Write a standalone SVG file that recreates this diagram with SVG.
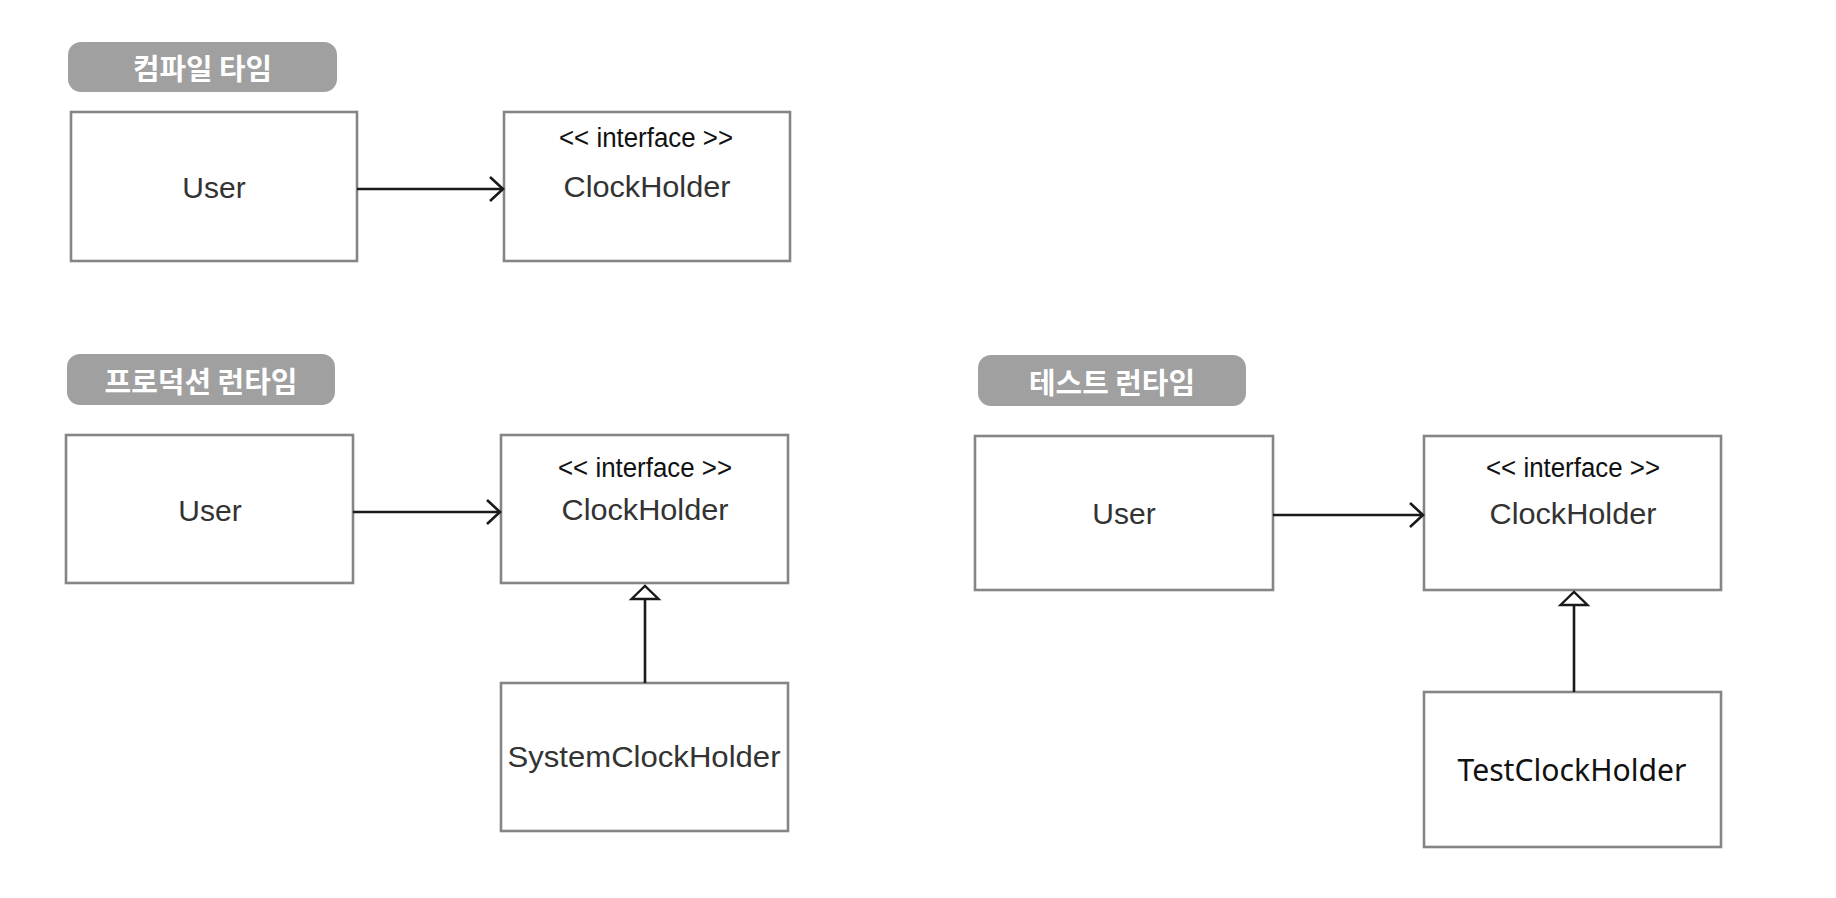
<svg xmlns="http://www.w3.org/2000/svg" width="1836" height="898" viewBox="0 0 1836 898">
<style>
.box{fill:#fff;stroke:#858585;stroke-width:2.6}
.pill{fill:#a0a0a0}
.pt{font-family:"Noto Sans CJK KR","Noto Sans",sans-serif;font-weight:bold;font-size:29px;fill:#fff;text-anchor:middle;dominant-baseline:central}
.nm{font-family:"Liberation Sans",Arial,sans-serif;font-size:30px;fill:#333;text-anchor:middle}
.st{font-family:"Liberation Sans",Arial,sans-serif;font-size:27px;fill:#111;text-anchor:middle}
.tn{font-family:"Noto Sans","Liberation Sans",sans-serif;font-size:30px;fill:#111;text-anchor:middle}
.ln{stroke:#1a1a1a;stroke-width:2.6;fill:none}
</style>
<defs>
<marker id="open" markerUnits="userSpaceOnUse" markerWidth="20" markerHeight="30" refX="14" refY="13" orient="auto" viewBox="0 0 20 26">
<path d="M1,1 L14,13 L1,25" fill="none" stroke="#1a1a1a" stroke-width="2.6"/>
</marker>
<marker id="tri" markerUnits="userSpaceOnUse" markerWidth="20" markerHeight="34" refX="15" refY="15" orient="auto" viewBox="0 0 20 30">
<path d="M2,1.5 L15,15 L2,28.5 Z" fill="#fff" stroke="#1a1a1a" stroke-width="2.4"/>
</marker>
</defs>
<rect width="1836" height="898" fill="#fff"/>

<g id="label-compile">
<rect class="pill" x="68" y="42" width="269" height="50" rx="13"/>
<text class="pt" x="202.5" y="67" textLength="139" lengthAdjust="spacingAndGlyphs">컴파일 타임</text>
</g>
<g id="c-user">
<rect class="box" x="71" y="112" width="286" height="149"/>
<text class="nm" x="214" y="198">User</text>
</g>
<g id="c-clock">
<rect class="box" x="504" y="112" width="286" height="149"/>
<text class="st" x="646" y="147" textLength="174" lengthAdjust="spacingAndGlyphs">&lt;&lt; interface &gt;&gt;</text>
<text class="nm" x="647" y="197" textLength="167" lengthAdjust="spacingAndGlyphs">ClockHolder</text>
</g>

<g id="label-prod">
<rect class="pill" x="67" y="354" width="268" height="51" rx="13"/>
<text class="pt" x="201" y="380" textLength="193" lengthAdjust="spacingAndGlyphs">프로덕션 런타임</text>
</g>
<g id="p-user">
<rect class="box" x="66" y="435" width="287" height="148"/>
<text class="nm" x="210" y="521">User</text>
</g>
<g id="p-clock">
<rect class="box" x="501" y="435" width="287" height="148"/>
<text class="st" x="645" y="477" textLength="174" lengthAdjust="spacingAndGlyphs">&lt;&lt; interface &gt;&gt;</text>
<text class="nm" x="645" y="520" textLength="167" lengthAdjust="spacingAndGlyphs">ClockHolder</text>
</g>
<g id="p-system">
<rect class="box" x="501" y="683" width="287" height="148"/>
<text class="nm" x="644" y="767" textLength="273" lengthAdjust="spacingAndGlyphs">SystemClockHolder</text>
</g>

<g id="label-test">
<rect class="pill" x="978" y="355" width="268" height="51" rx="13"/>
<text class="pt" x="1112" y="381" textLength="166" lengthAdjust="spacingAndGlyphs">테스트 런타임</text>
</g>
<g id="t-user">
<rect class="box" x="975" y="436" width="298" height="154"/>
<text class="nm" x="1124" y="524">User</text>
</g>
<g id="t-clock">
<rect class="box" x="1424" y="436" width="297" height="154"/>
<text class="st" x="1573" y="477" textLength="174" lengthAdjust="spacingAndGlyphs">&lt;&lt; interface &gt;&gt;</text>
<text class="nm" x="1573" y="524" textLength="167" lengthAdjust="spacingAndGlyphs">ClockHolder</text>
</g>
<g id="t-test">
<rect class="box" x="1424" y="692" width="297" height="155"/>
<text class="tn" x="1572" y="781" textLength="229" lengthAdjust="spacingAndGlyphs">TestClockHolder</text>
</g>

<g id="connectors">
<line class="ln" x1="357" y1="189" x2="503" y2="189" marker-end="url(#open)"/>
<line class="ln" x1="353" y1="512" x2="500" y2="512" marker-end="url(#open)"/>
<line class="ln" x1="645" y1="683" x2="645" y2="586" marker-end="url(#tri)"/>
<line class="ln" x1="1273" y1="515" x2="1423" y2="515" marker-end="url(#open)"/>
<line class="ln" x1="1574" y1="692" x2="1574" y2="592" marker-end="url(#tri)"/>
</g>
</svg>
